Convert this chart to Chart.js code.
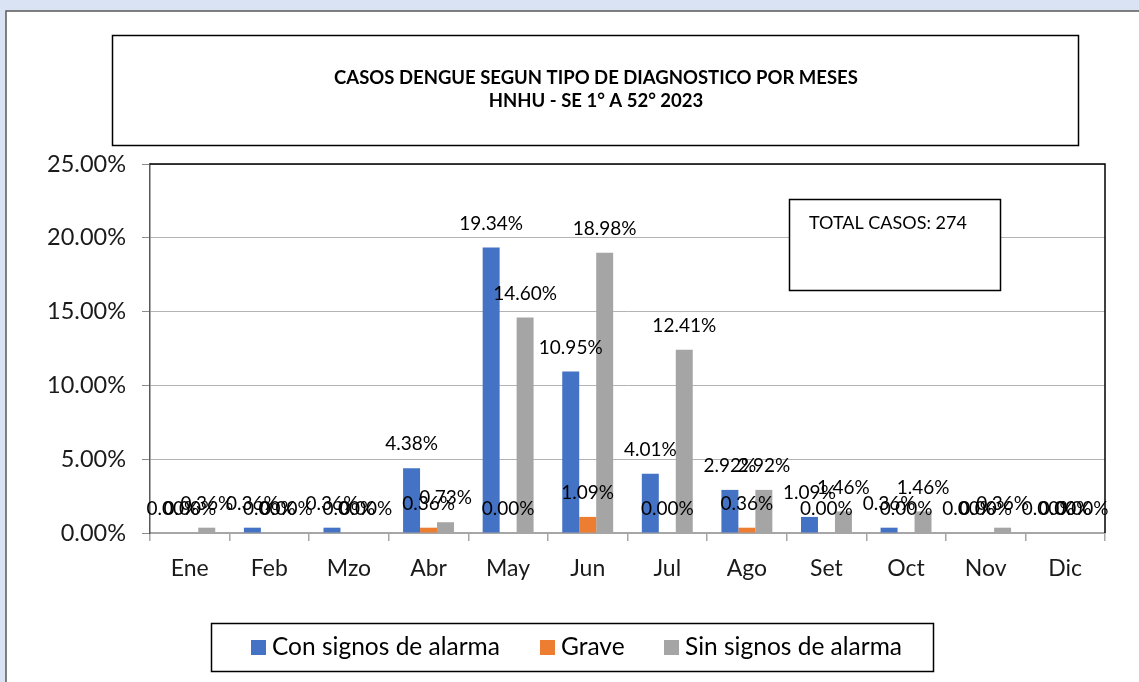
<!DOCTYPE html>
<html><head><meta charset="utf-8">
<script src="https://cdn.jsdelivr.net/npm/chart.js@4/dist/chart.umd.min.js"></script>
<style>html,body{margin:0;padding:0;background:#dae3f3;overflow:hidden}
#wrap{position:relative;width:1139px;height:682px}
canvas{display:block}</style></head>
<body><div id="wrap"><canvas id="c" width="1139" height="682"></canvas></div>
<script>
const months = ['Ene','Feb','Mzo','Abr','May','Jun','Jul','Ago','Set','Oct','Nov','Dic'];
const conSignos = [0, 0.36, 0.36, 4.38, 19.34, 10.95, 4.01, 2.92, 1.09, 0.36, 0, 0];
const grave     = [0, 0, 0, 0.36, 0, 1.09, 0, 0.36, 0, 0, 0, 0];
const sinSignos = [0.36, 0, 0, 0.73, 14.60, 18.98, 12.41, 2.92, 1.46, 1.46, 0.36, 0];
const seriesNames = ['Con signos de alarma','Grave','Sin signos de alarma'];
const seriesColors = ['#4472c4','#ed7d31','#a5a5a5'];
const yMin = 0, yMax = 25, yStep = 5;
const titleLines = ['CASOS DENGUE SEGUN TIPO DE DIAGNOSTICO POR MESES','HNHU - SE 1° A 52° 2023'];
const totalText = 'TOTAL CASOS: 274';

const FONT = 'Lato, "Open Sans", sans-serif';

const bgPlugin = {
  id:'bg',
  beforeDraw(chart){
    const ctx = chart.ctx;
    ctx.save();
    ctx.fillStyle = '#dae3f3';
    ctx.fillRect(0,0,chart.width,chart.height);
    ctx.fillStyle = '#ffffff';
    ctx.fillRect(6,11,chart.width+20,chart.height+20);
    ctx.strokeStyle = '#595959';
    ctx.lineWidth = 1.5;
    ctx.strokeRect(6,11,chart.width+20,chart.height+20);
    // title box
    ctx.strokeStyle = '#000';
    ctx.lineWidth = 1.5;
    ctx.strokeRect(112.5,35.5,966,110);
    ctx.fillStyle = '#000';
    ctx.font = 'bold 18.5px ' + FONT;
    ctx.textAlign = 'center';
    ctx.textBaseline = 'middle';
    ctx.fillText(titleLines[0], 596, 78);
    ctx.fillText(titleLines[1], 596, 101);
    ctx.restore();
  }
};

const frameLabelPlugin = {
  id:'frameLabels',
  afterDatasetsDraw(chart){
    const ctx = chart.ctx, a = chart.chartArea;
    ctx.save();
    // plot frame top & right
    ctx.strokeStyle = '#000';
    ctx.lineWidth = 1.5;
    ctx.beginPath();
    ctx.moveTo(a.left, a.top);
    ctx.lineTo(a.right, a.top);
    ctx.lineTo(a.right, a.bottom);
    ctx.stroke();
    // total box
    ctx.fillStyle = '#fff';
    ctx.fillRect(789,199,211,91);
    ctx.strokeStyle = '#000';
    ctx.lineWidth = 1.5;
    ctx.strokeRect(789.5,199.5,211,91);
    ctx.fillStyle = '#000';
    ctx.font = '18px ' + FONT;
    ctx.textAlign = 'left';
    ctx.textBaseline = 'middle';
    ctx.fillText(totalText, 809, 223);
    // data labels
    ctx.font = '19px ' + FONT;
    ctx.textAlign = 'center';
    ctx.fillStyle = '#000';
    chart.data.datasets.forEach((ds, i) => {
      const meta = chart.getDatasetMeta(i);
      meta.data.forEach((bar, j) => {
        ctx.fillText(ds.data[j].toFixed(2) + '%', bar.x, bar.y - 24);
      });
    });
    ctx.restore();
  },
  afterDraw(chart){
    const ctx = chart.ctx;
    ctx.save();
    ctx.fillStyle = '#fff';
    ctx.fillRect(211,623,722,48);
    ctx.strokeStyle = '#000';
    ctx.lineWidth = 1.5;
    ctx.strokeRect(211.5,623.5,722,48);
    const boxX = [251, 540, 664];
    ctx.font = '24.5px ' + FONT;
    ctx.textBaseline = 'middle';
    ctx.textAlign = 'left';
    chart.data.datasets.forEach((ds, i) => {
      ctx.fillStyle = ds.backgroundColor;
      ctx.fillRect(boxX[i], 640, 15, 15);
      ctx.fillStyle = '#000';
      ctx.fillText(ds.label, boxX[i] + 21, 647);
    });
    ctx.restore();
  }
};

new Chart(document.getElementById('c'), {
  type:'bar',
  data:{
    labels: months,
    datasets:[
      {label: seriesNames[0], data: conSignos, backgroundColor: seriesColors[0]},
      {label: seriesNames[1], data: grave, backgroundColor: seriesColors[1]},
      {label: seriesNames[2], data: sinSignos, backgroundColor: seriesColors[2]}
    ]
  },
  options:{
    responsive:false,
    animation:false,
    devicePixelRatio:1,
    layout:{padding:{top:164,right:34,bottom:0,left:0}},
    datasets:{bar:{categoryPercentage:0.64, barPercentage:1, borderWidth:0}},
    plugins:{legend:{display:false}, title:{display:false}, tooltip:{enabled:false}},
    scales:{
      x:{
        offset:true,
        grid:{offset:true, drawOnChartArea:false, tickLength:8, color:'#a6a6a6', lineWidth:1.5},
        border:{display:true, color:'#a6a6a6', width:2},
        ticks:{font:{family:FONT, size:23}, color:'#1a1a1a', padding:14, maxRotation:0},
        afterFit(s){ s.height = 149; }
      },
      y:{
        min:yMin, max:yMax,
        ticks:{stepSize:yStep, font:{family:FONT, size:23.5}, color:'#1a1a1a', padding:16,
          callback:v => v.toFixed(2) + '%'},
        grid:{color:'#b3b3b3', lineWidth:1, tickLength:8, tickColor:'#8c8c8c'},
        border:{display:true, color:'#595959', width:1.5},
        afterFit(s){ s.width = 150; }
      }
    }
  },
  plugins:[bgPlugin, frameLabelPlugin]
});
</script>
</body></html>
